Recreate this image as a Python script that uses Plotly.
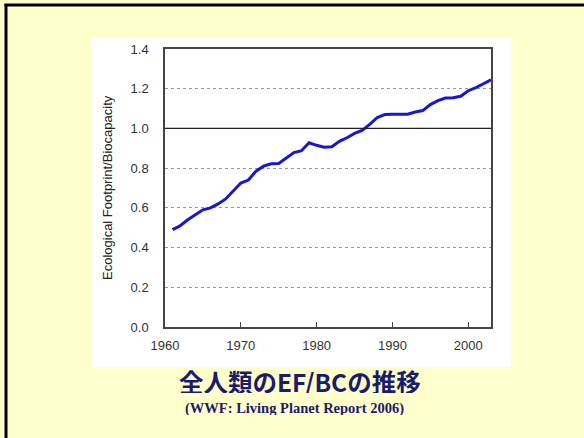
import plotly.graph_objects as go

years = list(range(1961, 2004))
ef_bc = [0.49, 0.51, 0.54, 0.565, 0.59, 0.60, 0.62, 0.645, 0.685, 0.725,
         0.74, 0.785, 0.81, 0.822, 0.823, 0.85, 0.878, 0.888, 0.928, 0.915,
         0.905, 0.908, 0.935, 0.953, 0.975, 0.99, 1.02, 1.055, 1.07, 1.072,
         1.072, 1.072, 1.083, 1.09, 1.12, 1.14, 1.153, 1.155, 1.162, 1.19,
         1.205, 1.225, 1.245]
x_ticks = [1960, 1970, 1980, 1990, 2000]
y_ticks = [0.0, 0.2, 0.4, 0.6, 0.8, 1.0, 1.2, 1.4]
y_title = "Ecological Footprint/Biocapacity"
title = "全人類のEF/BCの推移"
subtitle = "(WWF: Living Planet Report 2006)"

W, H = 584, 438
L, R, T, B = 165, 93, 49, 111
pw, ph = W - L - R, H - T - B

def px(x):
    return (x - L) / pw

def py(y):
    return (H - B - y) / ph

fig = go.Figure()
fig.add_trace(go.Scatter(x=years, y=ef_bc, mode="lines",
                         line=dict(color="#1616D8", width=3),
                         showlegend=False, hoverinfo="skip"))

shapes = [
    # white panel
    dict(type="rect", xref="paper", yref="paper", x0=px(91), x1=px(511),
         y0=py(367), y1=py(38), fillcolor="white", line=dict(width=0), layer="below"),
    # slide border (left and top)
    dict(type="line", xref="paper", yref="paper", x0=px(6), x1=px(6),
         y0=py(4), y1=py(440), line=dict(color="black", width=3)),
    dict(type="line", xref="paper", yref="paper", x0=px(4.5), x1=px(586),
         y0=py(5), y1=py(5), line=dict(color="black", width=3)),
    # 1.0 reference line
    dict(type="line", xref="paper", yref="y", x0=0, x1=1, y0=1.0, y1=1.0,
         line=dict(color="#222222", width=1.3)),
]

annotations = [
    dict(text=y_title, xref="paper", yref="paper", x=px(107), y=py(188),
         xanchor="center", yanchor="middle",
         textangle=-90, showarrow=False,
         font=dict(family="Liberation Sans, Arial", size=13, color="#222222")),
    dict(text="<b>" + title + "</b>", xref="paper", yref="paper", x=px(300), y=py(381),
         xanchor="center", yanchor="middle", showarrow=False,
         height=24, valign="middle", borderpad=0,
         font=dict(family="Noto Sans CJK JP", size=24.5, color="#1B1B6E")),
    dict(text="<b>" + subtitle + "</b>", xref="paper", yref="paper", x=px(294), y=py(408),
         xanchor="center", yanchor="middle", showarrow=False,
         height=13, valign="middle", borderpad=0,
         font=dict(family="Liberation Serif, Times New Roman", size=14.5, color="#1B1B6E")),
]

fig.update_layout(
    width=W, height=H,
    margin=dict(l=L, r=R, t=T, b=B),
    paper_bgcolor="#FFFFCC",
    plot_bgcolor="white",
    shapes=shapes,
    annotations=annotations,
    xaxis=dict(range=[1960, 2003], tickvals=x_ticks, ticks="inside", ticklen=5,
               tickcolor="#444444", showline=True, linecolor="#444444", linewidth=1.5,
               mirror=True, showgrid=False, zeroline=False,
               tickfont=dict(family="Liberation Sans, Arial", size=13, color="#333333"),
               ticklabelstandoff=6),
    yaxis=dict(range=[0, 1.4], tickvals=y_ticks, tickformat=".1f", ticks="",
               showline=True, linecolor="#444444", linewidth=1.5, mirror=True,
               showgrid=True, gridcolor="#999999", griddash="dot", gridwidth=1,
               zeroline=False,
               tickfont=dict(family="Liberation Sans, Arial", size=13, color="#333333"),
               ticklabelstandoff=12),
)

fig.write_html("out.html", config={"displayModeBar": False},
               post_script="document.body.style.margin='0';document.body.style.padding='0';")
